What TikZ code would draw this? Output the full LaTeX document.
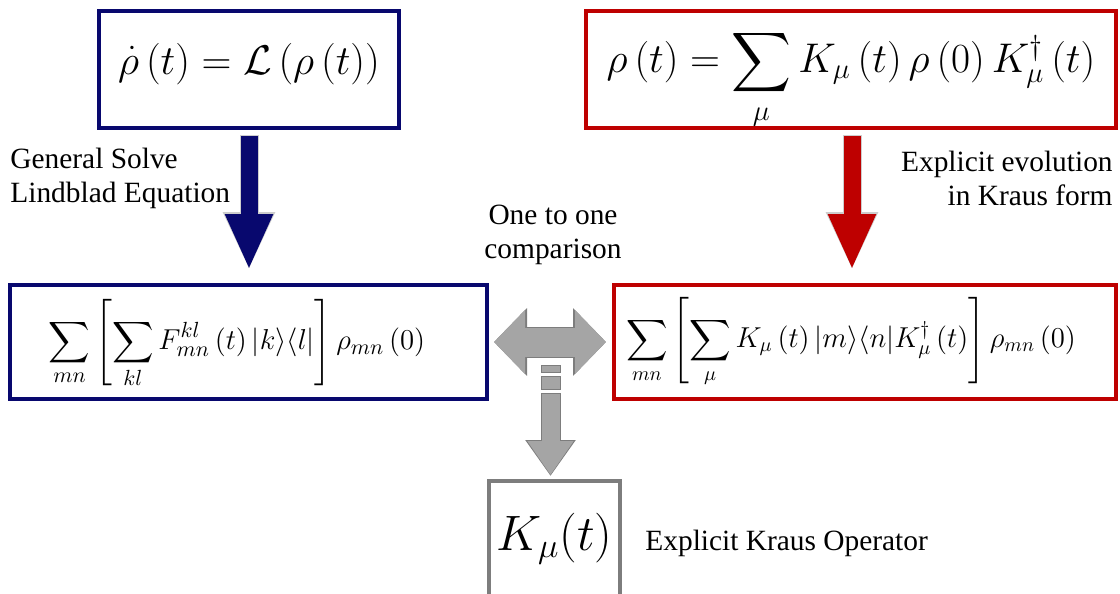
\documentclass[tikz,border=0pt]{standalone}
\usepackage[no-math]{fontspec}
\setmainfont{Liberation Serif}
\usepackage{amsmath}
\usetikzlibrary{arrows.meta,calc}
\definecolor{navy}{RGB}{8,8,110}
\definecolor{crimson}{RGB}{190,0,0}
\definecolor{slate}{RGB}{125,125,125}
\definecolor{ash}{RGB}{165,165,165}
\definecolor{rim}{RGB}{205,205,205}
\tikzset{
  % formula boxes: baseline sits on the node centre, \raisebox moves it
  eqbox/.style={draw=#1,line width=2pt,fill=white,inner sep=0pt,align=center,
    text height=0pt,text depth=0pt},
  eqbox/.default=navy,
  lbl/.style={font=\fontsize{14.7}{17}\selectfont,inner sep=0pt},
  % block arrows: a rim drawn under a filled shaft
  fat/.style={line width=8.5pt,draw=#1,-{Triangle[length=28pt,width=22pt,fill=#1]}},
  fatrim/.style={line width=9.5pt,draw=rim,shorten >=-0.7pt,
    -{Triangle[length=29pt,width=24pt,fill=rim]}},
  twin/.style={line width=14.5pt,draw=ash,
    {Triangle[length=15.5pt,width=31pt,fill=ash]}-{Triangle[length=15.5pt,width=31pt,fill=ash]}},
  twinrim/.style={line width=15.5pt,draw=slate,shorten <=-0.6pt,shorten >=-0.6pt,
    {Triangle[length=16.5pt,width=33pt,fill=slate]}-{Triangle[length=16.5pt,width=33pt,fill=slate]}},
  drop/.style={line width=9pt,draw=ash,dash pattern=on 3pt off 2.5pt on 6pt off 2.5pt on 300pt,
    -{Triangle[length=17pt,width=22pt,fill=ash]}},
  droprim/.style={line width=10pt,draw=slate,dash pattern=on 4pt off 1.5pt on 7pt off 1.5pt on 300pt,
    -{Triangle[length=18pt,width=24pt,fill=slate]}},
}

\begin{document}
\begin{tikzpicture}[x=0.5pt,y=-0.5pt]
  \useasboundingbox (0,0) rectangle (1120,594);

  % equations
  \node[eqbox=navy,minimum width=150pt,minimum height=58.5pt,font=\fontsize{20}{24}\selectfont]
    (lindblad) at (249,69.5) {\raisebox{-2.25pt}{$\dot{\rho}\left(t\right)=\mathcal{L}\left(\rho\left(t\right)\right)$}};
  \node[eqbox=crimson,minimum width=265pt,minimum height=58.5pt,font=\fontsize{20}{24}\selectfont]
    (kraus) at (851,69.5) {\raisebox{-1.5pt}{$\displaystyle\rho\left(t\right)=\sum_{\mu}K_{\mu}\left(t\right)\rho\left(0\right)K_{\mu}^{\dagger}\left(t\right)$}};
  \node[eqbox=navy,minimum width=238.5pt,minimum height=57pt,font=\fontsize{15.1}{18}\selectfont]
    (fsum) at (248.5,342) {\raisebox{-3.9pt}{$\displaystyle\sum_{mn}\left[\sum_{kl}F_{mn}^{kl}\left(t\right)|k\rangle\langle l|\right]\rho_{mn}\left(0\right)$}\hspace*{11.5pt}};
  \node[eqbox=crimson,minimum width=251pt,minimum height=57pt,font=\fontsize{14.8}{17.8}\selectfont]
    (ksum) at (865,342) {\raisebox{-2.75pt}{$\displaystyle\sum_{mn}\left[\sum_{\mu}K_{\mu}\left(t\right)|m\rangle\langle n|K_{\mu}^{\dagger}\left(t\right)\right]\rho_{mn}\left(0\right)$}\hspace*{14pt}};
  \node[eqbox=slate,minimum width=65.5pt,minimum height=58.5pt,font=\fontsize{25}{30}\selectfont]
    (kop) at (554.5,539.5) {\raisebox{-5.25pt}{$K_{\mu}(t)$}};

  % labels
  \node[lbl,align=left,anchor=west] (solvelbl) at (10,178) {General Solve\\Lindblad Equation};
  \node[lbl,align=right,anchor=east] (evollbl) at (1113,178) {Explicit evolution\\in Kraus form};
  \node[lbl,align=center] (complbl) at (553,235) {One to one\\comparison};
  \node[lbl,anchor=west] (oplbl) at (645,543) {Explicit Kraus Operator};

  % arrows
  \draw[fatrim,shorten <=2.5pt,shorten >=6.5pt] (lindblad.south) -- (lindblad.south |- fsum.north);
  \draw[fat=navy,shorten <=3pt,shorten >=6.5pt] (lindblad.south) -- (lindblad.south |- fsum.north);
  \draw[fatrim,shorten <=2.5pt,shorten >=6.5pt] ([xshift=0.5pt]kraus.south) -- ([xshift=0.5pt]kraus.south |- ksum.north);
  \draw[fat=crimson,shorten <=3pt,shorten >=6.5pt] ([xshift=0.5pt]kraus.south) -- ([xshift=0.5pt]kraus.south |- ksum.north);

  \coordinate (mid) at ($(fsum.east)!0.5!(ksum.west)$);
  \draw[twinrim,shorten <=2.5pt,shorten >=3pt] (fsum.east) -- (ksum.west);
  \draw[twin,shorten <=2.5pt,shorten >=3pt] (fsum.east) -- (ksum.west);
  \draw[droprim,shorten <=-0.5pt,shorten >=1.5pt] ($(mid)+(0,24)$) -- (mid |- kop.north);
  \draw[drop,shorten >=2pt] ($(mid)+(0,24)$) -- (mid |- kop.north);
\end{tikzpicture}
\end{document}
